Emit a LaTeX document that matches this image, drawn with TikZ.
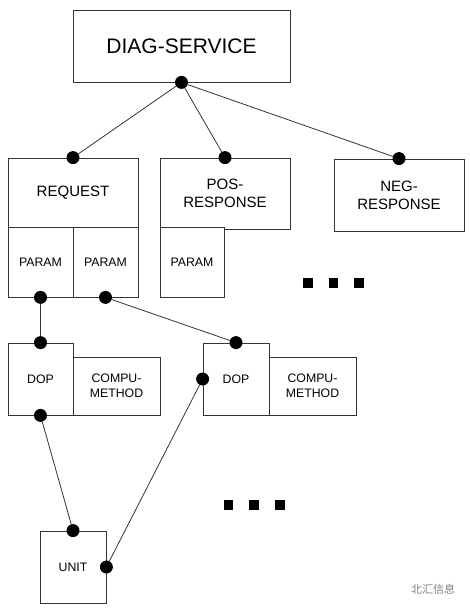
\documentclass[tikz,border=0pt]{standalone}
\usepackage{fontspec}
\setmainfont{Liberation Sans}
\newfontfamily\cjkfont{Noto Sans CJK SC}
\usepackage{xcolor}
\usepackage{tikz}
\usetikzlibrary{positioning}

\tikzset{
	box/.style={draw=black!80, line width=0.8pt, fill=white, inner sep=0pt, align=center},
	joint/.style={circle, fill=black, inner sep=0pt, minimum size=13pt},
	etc/.style={rectangle, fill=black, inner sep=0pt, minimum size=9.5pt},
	link/.style={draw=black!80, line width=0.8pt}
}

\begin{document}
\begin{tikzpicture}[x=1pt,y=-1pt]

	\useasboundingbox (0,0) rectangle (470,609);
	
	\node [box, minimum width=217pt, minimum height=72pt, font=\fontsize{21}{25}\selectfont] (diag) at (181.5,46) {DIAG-SERVICE};
	
	\node [box, minimum width=130pt, minimum height=69pt, font=\fontsize{15}{18}\selectfont] (request) at (73,192.5) {REQUEST};
	
	\node [box, minimum width=65pt, minimum height=70pt, font=\fontsize{12.3}{14.7}\selectfont] (paramA) at (40.5,262) {PARAM};
	
	\node [box, minimum width=65pt, minimum height=70pt, font=\fontsize{12.3}{14.7}\selectfont] (paramB) at (105.5,262) {PARAM};
	
	\node [box, minimum width=130pt, minimum height=71pt, font=\fontsize{15}{18}\selectfont] (pos) at (225,193.5) {POS-\\RESPONSE};
	
	\node [box, minimum width=64pt, minimum height=70pt, font=\fontsize{12.3}{14.7}\selectfont] (paramC) at (192,262) {PARAM};
	
	\node [box, minimum width=130pt, minimum height=72pt, font=\fontsize{15}{18}\selectfont] (neg) at (399,195) {NEG-\\RESPONSE};
	
	\node [box, minimum width=87pt, minimum height=58pt, font=\fontsize{12.3}{14.7}\selectfont] (compuA) at (116.5,386) {COMPU-\\METHOD};
	
	\node [box, minimum width=65pt, minimum height=72pt, font=\fontsize{12.3}{14.7}\selectfont] (dopA) at (40.5,379) {DOP};
	
	\node [box, minimum width=87pt, minimum height=58pt, font=\fontsize{12.3}{14.7}\selectfont] (compuB) at (312.5,386) {COMPU-\\METHOD};
	
	\node [box, minimum width=66pt, minimum height=72pt, font=\fontsize{12.3}{14.7}\selectfont] (dopB) at (236,379) {DOP};
	
	\node [box, minimum width=66pt, minimum height=72pt, font=\fontsize{12.3}{14.7}\selectfont] (unit) at (73,567) {UNIT};
	
	\node [joint] (jDiag) at (diag.south) {};
	
	\node [joint] (jRequest) at (request.north) {};
	
	\node [joint] (jPos) at (pos.north) {};
	
	\node [joint] (jNeg) at (neg.north) {};
	
	\node [joint] (jParamA) at (paramA.south) {};
	
	\node [joint] (jParamB) at (paramB.south) {};
	
	\node [joint] (jDopAtop) at (dopA.north) {};
	
	\node [joint] (jDopAbot) at (dopA.south) {};
	
	\node [joint] (jDopBtop) at (dopB.north) {};
	
	\node [joint] (jDopBleft) at (dopB.west) {};
	
	\node [joint] (jUnitTop) at (unit.north) {};
	
	\node [joint] (jUnitRight) at (unit.east) {};
	
	\draw [link] (jDiag) -- (jRequest);
	
	\draw [link] (jDiag) -- (jPos);
	
	\draw [link] (jDiag) -- (jNeg);
	
	\draw [link] (jParamA) -- (jDopAtop);
	
	\draw [link] (jParamB) -- (jDopBtop);
	
	\draw [link] (jDopAbot) -- (jUnitTop);
	
	\draw [link] (jDopBleft) -- (jUnitRight);
	
	\node [etc] (etcA1) at (308,283) {};
	
	\node [etc] (etcA2) at (333.5,283) {};
	
	\node [etc] (etcA3) at (359,283) {};
	
	\node [etc] (etcB1) at (228.5,505) {};
	
	\node [etc] (etcB2) at (254,505) {};
	
	\node [etc] (etcB3) at (280,505) {};
	
	\node [gray, font=\cjkfont\fontsize{11}{13}\selectfont] (mark) at (433,589) {北汇信息};

\end{tikzpicture}
\end{document}
